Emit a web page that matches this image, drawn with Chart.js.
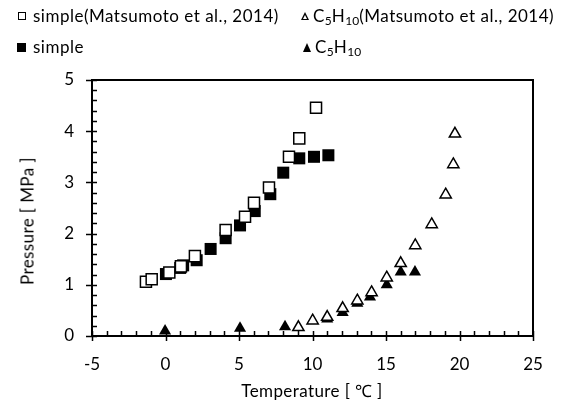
<!DOCTYPE html>
<html>
<head>
<meta charset="utf-8">
<script src="https://cdn.jsdelivr.net/npm/chart.js@4.4.0/dist/chart.umd.min.js"></script>
<style>
  html, body { margin: 0; padding: 0; background: #fff; }
  #wrap { position: relative; width: 567px; height: 400px; font-family: Lato, "Noto Sans", sans-serif; color: #000; }
  #c { position: absolute; left: 0; top: 0; }
  .lg { position: absolute; font-size: 17px; line-height: 20px; white-space: nowrap; letter-spacing: 0.5px; }
  .lg .s { font-size: 12px; position: relative; top: 3px; letter-spacing: 0; }
  .mk { position: absolute; box-sizing: border-box; }
  .title { position: absolute; font-size: 17px; white-space: nowrap; letter-spacing: 0.4px; }
</style>
</head>
<body>
<div id="wrap">
  <canvas id="c" width="567" height="400"></canvas>

  <div class="mk" style="left:18px;top:12px;width:8px;height:8px;border:1.5px solid #000;background:#fff;"></div>
  <div class="lg" style="left:33px;top:6px;">simple(Matsumoto et al., 2014)</div>

  <div class="mk" style="left:301px;top:12px;width:0;height:0;border-left:4.5px solid transparent;border-right:4.5px solid transparent;border-bottom:8px solid #000;"></div>
  <div class="mk" style="left:303px;top:15px;width:0;height:0;border-left:2.5px solid transparent;border-right:2.5px solid transparent;border-bottom:4.5px solid #fff;"></div>
  <div class="lg" style="left:313px;top:6px;">C<span class="s">5</span>H<span class="s">10</span>(Matsumoto et al., 2014)</div>

  <div class="mk" style="left:17px;top:43px;width:9px;height:9px;background:#000;"></div>
  <div class="lg" style="left:33px;top:37px;">simple</div>

  <div class="mk" style="left:303px;top:43px;width:0;height:0;border-left:4.5px solid transparent;border-right:4.5px solid transparent;border-bottom:9px solid #000;"></div>
  <div class="lg" style="left:315px;top:37px;">C<span class="s">5</span>H<span class="s">10</span></div>

  <div class="title" id="ytitle" style="left:27px;top:221px;transform:translate(-50%,-50%) rotate(-90deg);">Pressure [ MPa ]</div>
  <div class="title" id="xtitle" style="left:312px;top:390px;transform:translate(-50%,-50%);">Temperature [ ℃ ]</div>
</div>
<script>
// ---- data ----
const simpleRefT = [-1.33, -0.94, 0.26, 1.05, 2.0, 4.09, 5.41, 6.02, 7.04, 8.40, 9.10, 10.24];
const simpleRefP = [1.06, 1.11, 1.24, 1.36, 1.56, 2.07, 2.33, 2.60, 2.90, 3.50, 3.86, 4.46];

const c5RefT = [9.04, 10.01, 11.0, 12.05, 13.05, 14.02, 15.05, 16.0, 16.99, 18.11, 19.06, 19.58, 19.69];
const c5RefP = [0.17, 0.30, 0.37, 0.54, 0.69, 0.85, 1.14, 1.42, 1.77, 2.18, 2.76, 3.35, 3.95];

const simpleT = [0.03, 1.0, 1.2, 2.12, 3.07, 4.09, 5.07, 6.07, 7.13, 8.01, 9.10, 10.10, 11.08];
const simpleP = [1.21, 1.33, 1.38, 1.48, 1.70, 1.91, 2.16, 2.44, 2.77, 3.19, 3.47, 3.50, 3.53];

const c5T = [-0.03, 5.07, 8.13, 11.0, 12.05, 13.05, 13.91, 15.05, 16.0, 16.97];
const c5P = [0.10, 0.15, 0.18, 0.33, 0.46, 0.64, 0.76, 1.00, 1.25, 1.25];

const xTicks = [-5, 0, 5, 10, 15, 20, 25];
const yTicks = [0, 1, 2, 3, 4, 5];

function pts(xs, ys) { return xs.map((x, i) => ({ x: x, y: ys[i] })); }

const frameTicks = {
  id: 'frameTicks',
  beforeDatasetsDraw(chart) {
    const ctx = chart.ctx;
    const a = chart.chartArea;
    const xs = chart.scales.x, ys = chart.scales.y;
    ctx.save();
    ctx.strokeStyle = '#000';
    ctx.lineWidth = 2;
    ctx.beginPath();
    ctx.rect(a.left, a.top, a.right - a.left, a.bottom - a.top);
    ctx.stroke();
    ctx.lineWidth = 1.5;
    ctx.beginPath();
    // x ticks
    for (let v = xs.min; v <= xs.max + 1e-9; v += 1) {
      const px = Math.round(xs.getPixelForValue(v)) + 0.5;
      const major = xTicks.includes(v);
      ctx.moveTo(px, a.bottom - 5);
      ctx.lineTo(px, a.bottom + (major ? 5 : 0));
    }
    // y ticks
    for (let k = 0; k <= 25; k++) {
      const v = k * 0.2;
      const py = Math.round(ys.getPixelForValue(v)) + 0.5;
      const major = k % 5 === 0;
      ctx.moveTo(a.left + 5, py);
      ctx.lineTo(a.left - (major ? 6 : 0), py);
    }
    ctx.stroke();
    ctx.restore();
  }
};

const font = { family: 'Lato, "Noto Sans", sans-serif', size: 17 };

new Chart(document.getElementById('c'), {
  type: 'scatter',
  data: {
    datasets: [
      { label: 'simple(Matsumoto et al., 2014)', data: pts(simpleRefT, simpleRefP),
        pointStyle: 'rect', pointRadius: 7.8, pointBackgroundColor: '#fff', pointBorderColor: '#000', pointBorderWidth: 1.5 },
      { label: 'C₅H₁₀(Matsumoto et al., 2014)', data: pts(c5RefT, c5RefP),
        pointStyle: 'triangle', pointRadius: 6.5, pointBackgroundColor: '#fff', pointBorderColor: '#000', pointBorderWidth: 1.5 },
      { label: 'simple', data: pts(simpleT, simpleP),
        pointStyle: 'rect', pointRadius: 8.5, pointBackgroundColor: '#000', pointBorderColor: '#000', pointBorderWidth: 0 },
      { label: 'C₅H₁₀', data: pts(c5T, c5P),
        pointStyle: 'triangle', pointRadius: 7, pointBackgroundColor: '#000', pointBorderColor: '#000', pointBorderWidth: 0 }
    ]
  },
  options: {
    responsive: false,
    animation: false,
    events: [],
    clip: false,
    layout: { autoPadding: false, padding: { left: 0, right: 34, top: 80, bottom: 0 } },
    plugins: { legend: { display: false }, tooltip: { enabled: false } },
    scales: {
      x: {
        type: 'linear', min: -5, max: 25,
        afterFit(s) { s.height = 64; },
        afterBuildTicks(s) { s.ticks = xTicks.map(v => ({ value: v })); },
        grid: { display: false, drawTicks: false },
        border: { display: false },
        ticks: { color: '#000', font: font, padding: 18, maxRotation: 0 }
      },
      y: {
        type: 'linear', min: 0, max: 5,
        afterFit(s) { s.width = 92; },
        afterBuildTicks(s) { s.ticks = yTicks.map(v => ({ value: v })); },
        grid: { display: false, drawTicks: false },
        border: { display: false },
        ticks: { color: '#000', font: font, padding: 18 }
      }
    }
  },
  plugins: [frameTicks]
});
</script>
</body>
</html>
